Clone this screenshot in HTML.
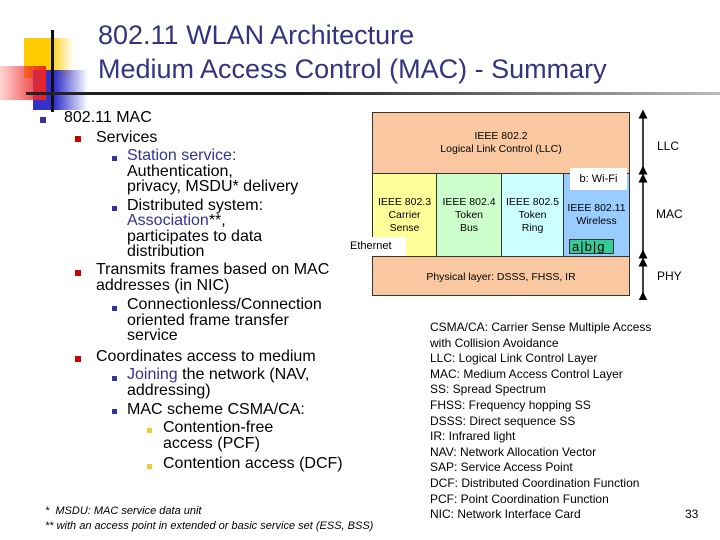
<!DOCTYPE html><html><head><style>
body{margin:0;width:720px;height:540px;background:#fff;position:relative;overflow:hidden;font-family:"Liberation Sans",sans-serif}
.a{position:absolute;white-space:nowrap}
.t{font-size:16px;line-height:18px;color:#000}
.b{color:#333399}
.sq{position:absolute;width:6px;height:6px}
.r{font-size:12px;line-height:14px;color:#000}
.d{position:absolute;box-sizing:border-box;border:1px solid #333;font-size:10.5px;text-align:center;line-height:13px}
</style></head><body>
<!-- logo -->
<div class="a" style="left:24px;top:38px;width:50px;height:40px;background:linear-gradient(90deg,#ffcc00 50%,rgba(255,220,100,0))"></div>
<div class="a" style="left:33px;top:70px;width:55px;height:40px;background:linear-gradient(90deg,#3333cc 40%,rgba(80,80,220,0))"></div>
<div class="a" style="left:0;top:66px;width:46px;height:34px;background:linear-gradient(90deg,rgba(255,120,120,.3),#ee2222)"></div>
<div class="a" style="left:51px;top:30px;width:3px;height:82px;background:#111"></div>
<div class="a" style="left:26px;top:92px;width:694px;height:3px;background:linear-gradient(90deg,#222 40%,#bbb)"></div>
<div class="a" style="left:98px;top:18px;font-size:27px;line-height:34px;color:#333380">802.11 WLAN Architecture<br>Medium Access Control (MAC) - Summary</div>
<!-- bullets -->
<div class="sq" style="left:40px;top:117px;background:#333399"></div>
<div class="a t" style="left:64px;top:109px">802.11 MAC</div>
<div class="sq" style="left:75px;top:136px;background:#cc0000"></div>
<div class="a t" style="left:96px;top:129px">Services</div>
<div class="sq" style="left:112px;top:156px;width:5px;height:5px;background:#333399"></div>
<div class="a t" style="left:127px;top:148px;line-height:15.5px"><span class="b">Station service:</span><br>Authentication,<br>privacy, MSDU* delivery</div>
<div class="sq" style="left:112px;top:206px;width:5px;height:5px;background:#333399"></div>
<div class="a t" style="left:127px;top:198px;line-height:15.3px">Distributed system:<br><span class="b">Association</span>**,<br>participates to data<br>distribution</div>
<div class="sq" style="left:75px;top:270px;background:#cc0000"></div>
<div class="a t" style="left:96px;top:262px;line-height:15.5px">Transmits frames based on MAC<br>addresses (in NIC)</div>
<div class="sq" style="left:112px;top:306px;width:5px;height:5px;background:#333399"></div>
<div class="a t" style="left:127px;top:297px;line-height:15.5px">Connectionless/Connection<br>oriented frame transfer<br>service</div>
<div class="sq" style="left:75px;top:356px;background:#cc0000"></div>
<div class="a t" style="left:96px;top:348px">Coordinates access to medium</div>
<div class="sq" style="left:112px;top:376px;width:5px;height:5px;background:#333399"></div>
<div class="a t" style="left:127px;top:367px;line-height:15.5px"><span class="b">Joining</span> the network (NAV,<br>addressing)</div>
<div class="sq" style="left:112px;top:409px;width:5px;height:5px;background:#333399"></div>
<div class="a t" style="left:127px;top:401px">MAC scheme CSMA/CA:</div>
<div class="sq" style="left:147px;top:428px;width:5px;height:5px;background:#eecc33"></div>
<div class="a t" style="left:163px;top:420px;line-height:15.5px">Contention-free<br>access (PCF)</div>
<div class="sq" style="left:147px;top:464px;width:5px;height:5px;background:#eecc33"></div>
<div class="a t" style="left:163px;top:455px">Contention access (DCF)</div>
<div class="a" style="left:45px;top:504px;font-size:11px;line-height:15px;font-style:italic">*&nbsp;&nbsp;MSDU: MAC service data unit<br>** with an access point in extended or basic service set (ESS, BSS)</div>
<!-- diagram -->
<div class="d" style="left:372px;top:112px;width:258px;height:62px;background:#f9c8a0;padding-top:17px">IEEE 802.2<br>Logical Link Control (LLC)</div>
<div class="d" style="left:372px;top:173px;width:65px;height:84px;background:#ffff99;padding-top:22px">IEEE 802.3<br>Carrier<br>Sense</div>
<div class="d" style="left:436px;top:173px;width:66px;height:84px;background:#ccffcc;padding-top:22px">IEEE 802.4<br>Token<br>Bus</div>
<div class="d" style="left:501px;top:173px;width:63px;height:84px;background:#ccffff;padding-top:22px">IEEE 802.5<br>Token<br>Ring</div>
<div class="d" style="left:563px;top:173px;width:67px;height:84px;background:#99ccff;padding-top:28px">IEEE 802.11<br>Wireless</div>
<div class="a" style="left:570px;top:168px;width:57px;height:22px;background:#fff;font-size:11px;line-height:22px;text-align:center">b: Wi-Fi</div>
<div class="a" style="left:569px;top:239px;width:45px;height:15px;background:#33cc99;border:1px solid #333;box-sizing:border-box;font-size:13px;line-height:13px;letter-spacing:1px;padding-left:2px">a|b|g</div>
<div class="a" style="left:347px;top:237px;width:59px;height:20px;background:#fff;font-size:11px;line-height:18px;padding-left:3px;box-sizing:border-box">Ethernet</div>
<div class="d" style="left:372px;top:256px;width:258px;height:40px;background:#f9c8a0;line-height:40px">Physical layer: DSSS, FHSS, IR</div>
<svg class="a" style="left:630px;top:108px" width="30" height="192">
<defs><marker id="m" markerWidth="6" markerHeight="6" refX="3" refY="3" orient="auto"><path d="M0,0L6,3L0,6z" fill="#000"/></marker></defs>
<g stroke="#000" stroke-width="1.5"><line x1="13" y1="62" x2="13" y2="6" marker-end="url(#m)" marker-start="url(#m)"/>
<line x1="13" y1="146" x2="13" y2="70" marker-end="url(#m)" marker-start="url(#m)"/>
<line x1="13" y1="188" x2="13" y2="154" marker-end="url(#m)" marker-start="url(#m)"/></g></svg>
<div class="a r" style="left:657px;top:139px">LLC</div>
<div class="a r" style="left:656px;top:207px">MAC</div>
<div class="a r" style="left:657px;top:269px">PHY</div>
<div class="a r" style="left:430px;top:320px;line-height:15.6px">CSMA/CA: Carrier Sense Multiple Access<br>with Collision Avoidance<br>LLC: Logical Link Control Layer<br>MAC: Medium Access Control Layer<br>SS: Spread Spectrum<br>FHSS: Frequency hopping SS<br>DSSS: Direct sequence SS<br>IR: Infrared light<br>NAV: Network Allocation Vector<br>SAP: Service Access Point<br>DCF: Distributed Coordination Function<br>PCF: Point Coordination Function<br>NIC: Network Interface Card</div>
<div class="a r" style="left:685px;top:507px">33</div>
</body></html>
